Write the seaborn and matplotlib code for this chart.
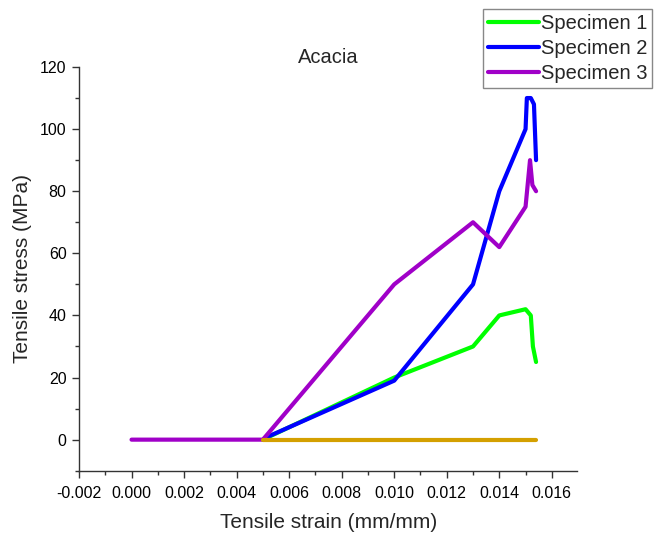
import matplotlib
matplotlib.use("Agg")
import matplotlib.pyplot as plt
import seaborn as sns
import pandas as pd
from matplotlib.ticker import MultipleLocator, FormatStrFormatter

# ---- data ----
spec1_strain = [0.0050, 0.0100, 0.0130, 0.0140, 0.0150, 0.0152, 0.01528, 0.0154]
spec1_stress = [0.0, 20.0, 30.0, 40.0, 42.0, 40.0, 30.0, 25.0]

spec2_strain = [0.0052, 0.0100, 0.0130, 0.0140, 0.0150, 0.01505, 0.0152, 0.01532, 0.0154]
spec2_stress = [1.0, 19.0, 50.0, 80.0, 100.0, 110.0, 110.0, 108.0, 90.0]

spec3_strain = [0.0000, 0.0050, 0.0100, 0.0130, 0.0140, 0.0150, 0.01517, 0.01526, 0.0154]
spec3_stress = [0.0, 0.0, 50.0, 70.0, 62.0, 75.0, 90.0, 82.0, 80.0]

base_strain = [0.0050, 0.0154]
base_stress = [0.0, 0.0]

labels = ["Specimen 1", "Specimen 2", "Specimen 3"]
colors = ["#00FF00", "#0000FF", "#A000C8", "#D4A000"]

sns.set_theme(style="ticks")
plt.rcParams["font.family"] = ["Liberation Sans", "DejaVu Sans"]

fig = plt.figure(figsize=(6.62, 5.36), dpi=100)
ax = fig.add_axes([79/662, 1 - 470.7/536, (577.3 - 79)/662, (470.7 - 67)/536])

series = [
    (spec1_strain, spec1_stress, labels[0], colors[0]),
    (spec2_strain, spec2_stress, labels[1], colors[1]),
    (spec3_strain, spec3_stress, labels[2], colors[2]),
    (base_strain, base_stress, "_baseline", colors[3]),
]
for xs, ys, lab, col in series:
    df = pd.DataFrame({"strain": xs, "stress": ys})
    sns.lineplot(data=df, x="strain", y="stress", sort=False, estimator=None,
                 ax=ax, color=col, linewidth=3, label=lab,
                 solid_capstyle="round", solid_joinstyle="round")

ax.set_xlim(-0.002, 0.01697)
ax.set_ylim(-10, 120)
ax.xaxis.set_major_locator(MultipleLocator(0.002))
ax.xaxis.set_minor_locator(MultipleLocator(0.001))
ax.xaxis.set_major_formatter(FormatStrFormatter("%.3f"))
ax.yaxis.set_major_locator(MultipleLocator(20))
ax.yaxis.set_minor_locator(MultipleLocator(10))

for s in ["top", "right"]:
    ax.spines[s].set_visible(False)
for s in ["left", "bottom"]:
    ax.spines[s].set_linewidth(1.0)
    ax.spines[s].set_color("#333333")

ax.tick_params(which="major", direction="out", length=5, width=1.0,
               color="#333333", labelsize=11.5, labelcolor="black")
ax.tick_params(axis="x", which="major", pad=6)
ax.tick_params(axis="y", which="major", pad=4)
ax.tick_params(which="minor", direction="out", length=3, width=1.0, color="#333333")

ax.set_xlabel("Tensile strain (mm/mm)", fontsize=15, labelpad=9)
ax.set_ylabel("Tensile stress (MPa)", fontsize=15, labelpad=6)
ax.set_title("Acacia", fontsize=14.5, pad=3)

handles, labs = ax.get_legend_handles_labels()
keep = [(h, l) for h, l in zip(handles, labs) if not l.startswith("_")]
ax.legend([h for h, _ in keep], [l for _, l in keep],
          loc="upper right", bbox_to_anchor=(652.3/662, 1 - 9/536),
          bbox_transform=fig.transFigure, fontsize=14.5, frameon=True,
          fancybox=False, edgecolor="#888888", framealpha=1,
          handlelength=2.5, handletextpad=0.1, labelspacing=0.3,
          borderpad=0.25, borderaxespad=0)

fig.savefig("out.png", dpi=100)
